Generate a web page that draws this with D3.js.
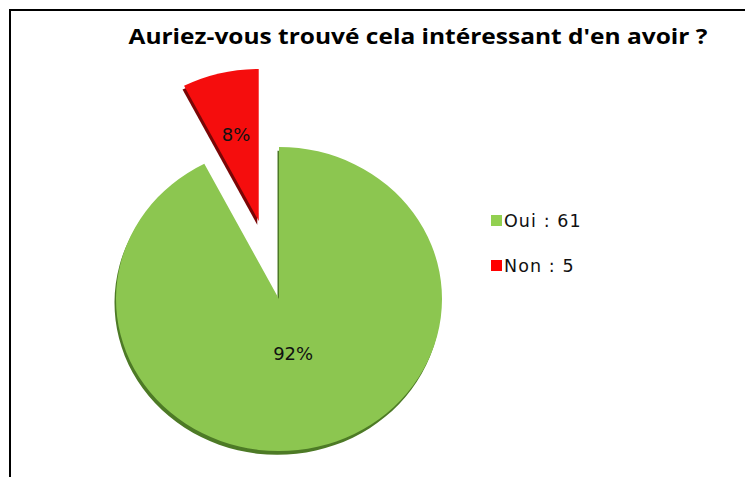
<!DOCTYPE html>
<html>
<head>
<meta charset="utf-8">
<script src="https://cdn.jsdelivr.net/npm/d3@7"></script>
<style>
  body { margin: 0; background: #fff; }
  svg { display: block; }
</style>
</head>
<body>
<div id="viz"></div>
<script>
// chart data
const categories = ["Oui", "Non"];
const counts = [61, 5];
const percentLabels = ["92%", "8%"];
const colors = ["#8cc650", "#f50d0d"];
const legendColors = ["#92d050", "#ff0000"];
const shadowColors = ["#4d7a26", "#7a0606"];
const titleText = "Auriez-vous trouvé cela intéressant d'en avoir ?";

const width = 745, height = 477;
const cx = 279, cy = 299;       // pie centre
const radius = 163;             // horizontal radius
const squash = 0.933;           // vertical squash of the pie
const explode = [0, 86];        // slice offset from centre
const labelR = [60, 96];        // label distance from slice tip

const svg = d3.select("#viz")
    .append("svg")
    .attr("width", width)
    .attr("height", height);

// frame (left and top lines only)
svg.append("path")
    .attr("d", `M10,${height} L10,10 L${width},10`)
    .attr("fill", "none")
    .attr("stroke", "#000")
    .attr("stroke-width", 2);

// title
svg.append("text")
    .attr("x", 418)
    .attr("y", 44)
    .attr("text-anchor", "middle")
    .attr("font-family", "'Open Sans', sans-serif")
    .attr("font-weight", "bold")
    .attr("font-size", 22)
    .attr("fill", "#000")
    .attr("textLength", 579)
    .attr("lengthAdjust", "spacingAndGlyphs")
    .text(titleText);

// pie layout
const pie = d3.pie().sort(null).value(d => d);
const arcs = pie(counts);
const arc = d3.arc().innerRadius(0).outerRadius(radius);

// offset of a slice along its bisector
function sliceOffset(d, i) {
    const a = (d.startAngle + d.endAngle) / 2;
    return [Math.sin(a) * explode[i], -Math.cos(a) * explode[i]];
}

const pieG = svg.append("g")
    .attr("transform", `translate(${cx},${cy}) scale(1,${squash})`);

// shadows first, then slices
arcs.forEach((d, i) => {
    const o = sliceOffset(d, i);
    pieG.append("path")
        .attr("d", arc(d))
        .attr("fill", shadowColors[i])
        .attr("transform", `translate(${o[0] - 1.5},${o[1] + 4})`);
});

arcs.forEach((d, i) => {
    const o = sliceOffset(d, i);
    pieG.append("path")
        .attr("d", arc(d))
        .attr("fill", colors[i])
        .attr("transform", `translate(${o[0]},${o[1]})`);
});

// percentage labels
arcs.forEach((d, i) => {
    const a = (d.startAngle + d.endAngle) / 2;
    const r = explode[i] + labelR[i];
    svg.append("text")
        .attr("x", cx + Math.sin(a) * r)
        .attr("y", cy - Math.cos(a) * r * squash + 7)
        .attr("text-anchor", "middle")
        .attr("font-family", "'DejaVu Sans', Verdana, sans-serif")
        .attr("font-size", 18)
        .attr("fill", "#111")
        .text(percentLabels[i]);
});

// legend
const legend = svg.append("g").attr("transform", "translate(491,215)");
categories.forEach((c, i) => {
    const row = legend.append("g").attr("transform", `translate(0,${i * 45})`);
    row.append("rect")
        .attr("width", 11)
        .attr("height", 11)
        .attr("fill", legendColors[i]);
    row.append("text")
        .attr("x", 13)
        .attr("y", 12)
        .attr("font-family", "'DejaVu Sans', Verdana, sans-serif")
        .attr("font-size", 17.5)
        .attr("letter-spacing", 1.1)
        .attr("fill", "#111")
        .text(`${c} : ${counts[i]}`);
});
</script>
</body>
</html>
